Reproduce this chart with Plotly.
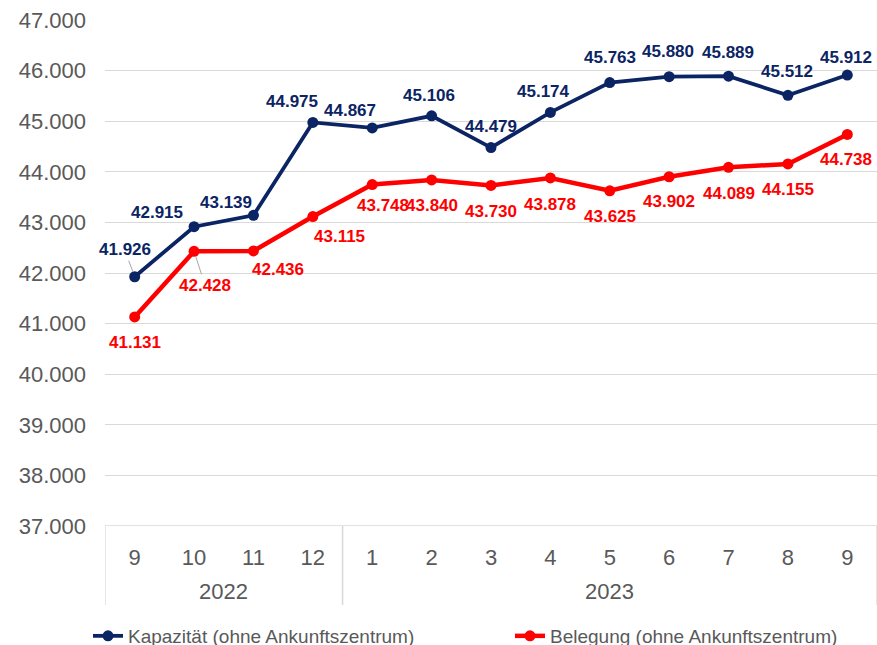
import plotly.graph_objects as go

months = ["9", "10", "11", "12", "1", "2", "3", "4", "5", "6", "7", "8", "9"]
years = ["2022", "2022", "2022", "2022", "2023", "2023", "2023", "2023", "2023", "2023", "2023", "2023", "2023"]
kapazitaet = [41926, 42915, 43139, 44975, 44867, 45106, 44479, 45174, 45763, 45880, 45889, 45512, 45912]
belegung = [41131, 42428, 42436, 43115, 43748, 43840, 43730, 43878, 43625, 43902, 44089, 44155, 44738]
name_kap = "Kapazität (ohne Ankunftszentrum)"
name_bel = "Belegung (ohne Ankunftszentrum)"

BLUE = "#0b2463"
RED = "#ff0000"
GREY = "#595959"
GRID = "#d9d9d9"

# label offsets in pixels (dx, dy screen-down)
blue_off = [(-10, -27), (-37, -14), (-27, -13), (-21, -21), (-22, -17), (-3, -20), (0, -21),
            (-7, -21), (0, -25), (-1, -25), (-1, -24), (-1, -24), (-1, -18)]
red_off = [(0, 26), (11, 34), (25, 19), (27, 20), (11, 21), (0, 26), (0, 26),
           (0, 27), (0, 26), (0, 25), (0, 26), (0, 26), (-1, 25)]
leader_blue = {0}
leader_red = {1}

xs = list(range(len(months)))

def fmt(v):
    return f"{v:,}".replace(",", ".")

fig = go.Figure()
fig.add_trace(go.Scatter(x=xs, y=kapazitaet, mode="lines+markers", name=name_kap,
                         line=dict(color=BLUE, width=3.8), marker=dict(color=BLUE, size=11)))
fig.add_trace(go.Scatter(x=xs, y=belegung, mode="lines+markers", name=name_bel,
                         line=dict(color=RED, width=4.5), marker=dict(color=RED, size=11)))

annotations = []
lab_font_b = dict(family="Liberation Sans", size=17, color=BLUE)
lab_font_r = dict(family="Liberation Sans", size=17, color=RED)
for i, v in enumerate(kapazitaet):
    dx, dy = blue_off[i]
    if i in leader_blue:
        annotations.append(dict(x=xs[i], y=v, xref="x", yref="y", text=f"<b>{fmt(v)}</b>",
                                showarrow=True, arrowhead=0, arrowwidth=1, arrowcolor="#a6a6a6",
                                ax=dx, ay=dy, standoff=5, font=lab_font_b))
    else:
        annotations.append(dict(x=xs[i], y=v, xref="x", yref="y", text=f"<b>{fmt(v)}</b>",
                                showarrow=False, xshift=dx, yshift=-dy, font=lab_font_b))
for i, v in enumerate(belegung):
    dx, dy = red_off[i]
    if i in leader_red:
        annotations.append(dict(x=xs[i], y=v, xref="x", yref="y", text=f"<b>{fmt(v)}</b>",
                                showarrow=True, arrowhead=0, arrowwidth=1, arrowcolor="#a6a6a6",
                                ax=dx, ay=dy, standoff=5, font=lab_font_r))
    else:
        annotations.append(dict(x=xs[i], y=v, xref="x", yref="y", text=f"<b>{fmt(v)}</b>",
                                showarrow=False, xshift=dx, yshift=-dy, font=lab_font_r))

W, H = 877, 645
M_T, M_B, M_L = 20, 119, 105
plot_h = H - M_T - M_B
plot_w = W - M_L

groups = []
for i, y in enumerate(years):
    if not groups or groups[-1][0] != y:
        groups.append([y, i, i])
    else:
        groups[-1][2] = i
shapes = []
div_y = -79 / plot_h
for g, a, b in groups:
    annotations.append(dict(x=(a + b) / 2, y=-65 / plot_h, xref="x", yref="paper",
                            text=g, showarrow=False, yanchor="middle",
                            font=dict(family="Liberation Sans", size=22, color=GREY)))
    for xb in (a - 0.5, b + 0.5):
        shapes.append(dict(type="line", xref="x", yref="paper", x0=xb, x1=xb, y0=0, y1=div_y,
                           line=dict(color=GRID, width=1.3)))
shapes.append(dict(type="line", xref="paper", yref="y", x0=0, x1=1, y0=37000, y1=37000,
                   line=dict(color=GRID, width=1.3)))

fig.update_layout(
    width=W, height=H,
    margin=dict(l=M_L, r=0, t=M_T, b=M_B, autoexpand=False),
    paper_bgcolor="white", plot_bgcolor="white",
    separators=",.",
    showlegend=True,
    legend=dict(orientation="h", x=-17 / plot_w, xanchor="left", y=-91 / plot_h, yanchor="top",
                font=dict(family="Liberation Sans", size=19, color=GREY),
                entrywidth=377, entrywidthmode="pixels", bgcolor="rgba(0,0,0,0)"),
    annotations=annotations,
    shapes=shapes,
    xaxis=dict(range=[-0.5, len(months) - 0.5], tickmode="array", tickvals=xs, ticktext=months,
               showgrid=False, zeroline=False, showline=False,
               ticks="outside", ticklen=12, tickcolor="rgba(0,0,0,0)",
               tickfont=dict(family="Liberation Sans", size=22, color=GREY)),
    yaxis=dict(range=[37000, 47000], dtick=1000, tickformat=",d",
               showgrid=True, gridcolor=GRID, gridwidth=1.3, zeroline=False,
               showline=False, ticks="", ticklabelstandoff=18,
               tickfont=dict(family="Liberation Sans", size=22, color=GREY)),
)

fig.write_html("out.html", config={"displayModeBar": False},
               post_script="document.body.style.margin='0';")
